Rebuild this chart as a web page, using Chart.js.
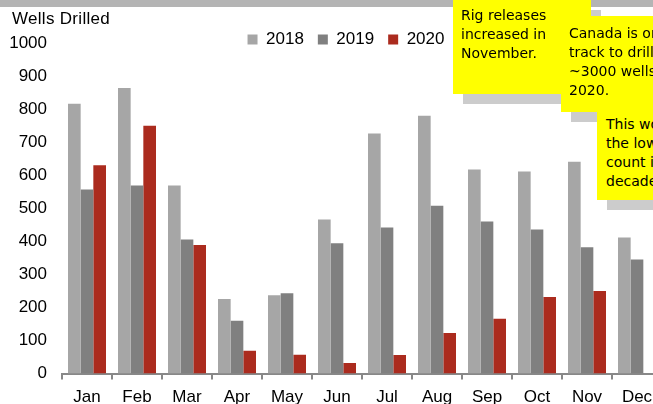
<!DOCTYPE html>
<html>
<head>
<meta charset="utf-8">
<script src="https://cdn.jsdelivr.net/npm/chart.js@4.4.1/dist/chart.umd.min.js"></script>
<style>
  html, body { margin: 0; padding: 0; width: 653px; height: 404px; overflow: hidden; background: #fff; position: relative; }
  #topband { position: absolute; left: 0; top: 0; width: 653px; height: 7px; background: #b4b4b4; }
  #wrap { position: absolute; left: 0; top: 0; width: 670px; height: 416px; }
  #ytitle { position: absolute; left: 12px; top: 9px; font: 17px 'Liberation Sans', Arial, sans-serif; letter-spacing: 0.3px; color: #000; }
  .note { position: absolute; background: #ffff00; font: 14px 'Comic Sans MS', 'DejaVu Sans', sans-serif; line-height: 19px; color: #000; white-space: nowrap; overflow: hidden; box-sizing: border-box; }
  .shadow { position: absolute; background: #cccccc; }
</style>
</head>
<body>
<div id="wrap"><canvas id="chart"></canvas></div>
<div id="topband"></div>
<div id="ytitle">Wells Drilled</div>

<div class="shadow" style="left:463px; top:10px; width:138px; height:94px;"></div>
<div class="note" style="left:453px; top:0px; width:138px; height:94px; padding:6px 0 0 8px;">Rig releases<br>increased in<br>November.</div>

<div class="shadow" style="left:571px; top:26px; width:100px; height:96px;"></div>
<div class="note" style="left:561px; top:16px; width:100px; height:96px; padding:8px 0 0 8px;">Canada is on<br>track to drill<br>~3000 wells in<br>2020.</div>

<div class="shadow" style="left:607px; top:122px; width:60px; height:88px;"></div>
<div class="note" style="left:597px; top:112px; width:60px; height:88px; padding:3px 0 0 9px;">This would be<br>the lowest<br>count in a<br>decade.</div>

<script>
var months = ['Jan', 'Feb', 'Mar', 'Apr', 'May', 'Jun', 'Jul', 'Aug', 'Sep', 'Oct', 'Nov', 'Dec'];
var wells2018 = [816, 864, 569, 226, 237, 466, 726, 780, 617, 611, 641, 412];
var wells2019 = [557, 569, 406, 160, 243, 394, 442, 508, 460, 436, 382, 345];
var wells2020 = [630, 750, 389, 69, 57, 32, 56, 123, 166, 232, 250, null];
var yTicks = [0, 100, 200, 300, 400, 500, 600, 700, 800, 900, 1000];

var fontFamily = "'Liberation Sans', Arial, sans-serif";

// nudge the legend to sit where the original one was
var legendShift = {
  id: 'legendShift',
  beforeDraw: function(chart) {
    var lg = chart.legend;
    if (!lg || lg._shifted) return;
    lg.left += 15;
    lg.right += 15;
    lg.top += 15;
    lg.bottom += 15;
    lg._shifted = true;
  }
};

var ctx = document.getElementById('chart');

var barGraph = new Chart(ctx, {
  type: 'bar',
  data: {
    labels: months,
    datasets: [
      { label: '2018', data: wells2018, backgroundColor: '#a6a6a6' },
      { label: '2019', data: wells2019, backgroundColor: '#808080' },
      { label: '2020', data: wells2020, backgroundColor: '#ab2b1e' }
    ]
  },
  options: {
    responsive: true,
    maintainAspectRatio: false,
    animation: false,
    layout: { padding: { left: 0, right: 8, top: 2, bottom: 0 } },
    datasets: {
      bar: { categoryPercentage: 0.76, barPercentage: 1.0, borderWidth: 0 }
    },
    plugins: {
      tooltip: { enabled: false },
      legend: {
        position: 'top',
        labels: {
          boxWidth: 10,
          boxHeight: 10,
          padding: 14,
          color: '#000',
          font: { family: fontFamily, size: 17 }
        }
      }
    },
    scales: {
      x: {
        grid: { offset: true, drawOnChartArea: false, drawTicks: true, tickLength: 6, color: '#888', lineWidth: 2 },
        border: { color: '#888', width: 2 },
        ticks: { color: '#000', padding: 8, font: { family: fontFamily, size: 17 } }
      },
      y: {
        min: 0,
        max: 1000,
        afterBuildTicks: function(scale) {
          scale.ticks = yTicks.map(function(v) { return { value: v }; });
        },
        afterFit: function(scale) { scale.width = 62; },
        grid: { display: false, drawTicks: false },
        border: { display: false },
        ticks: {
          color: '#000',
          padding: 15,
          font: { family: fontFamily, size: 17 },
          callback: function(value) { return String(value); }
        }
      }
    }
  },
  plugins: [legendShift]
});
</script>
</body>
</html>
